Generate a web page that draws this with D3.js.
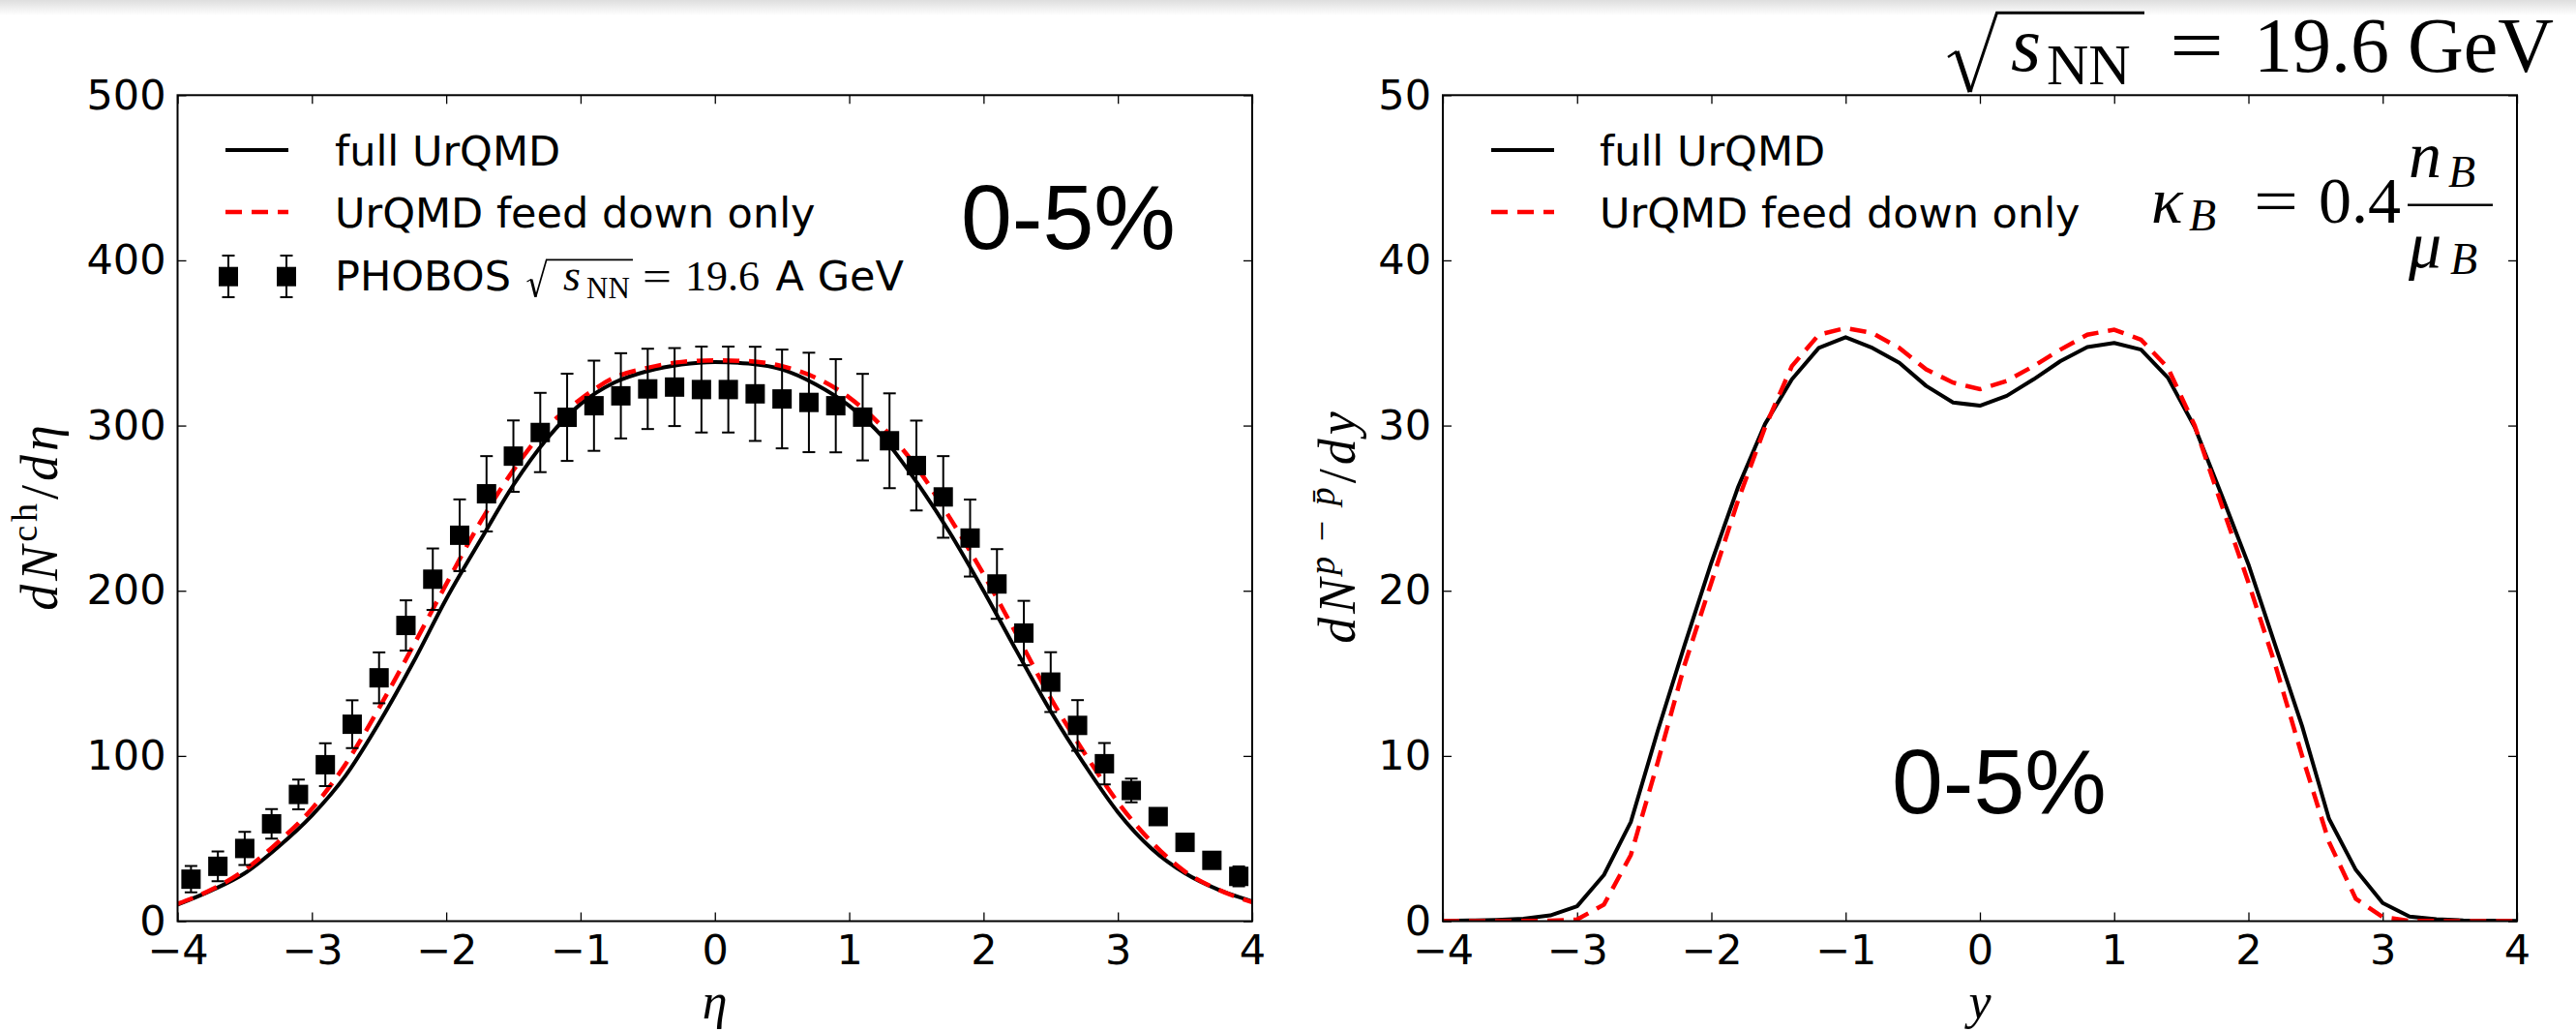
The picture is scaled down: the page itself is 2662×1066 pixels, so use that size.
<!DOCTYPE html>
<html lang="en">
<head>
<meta charset="utf-8" />
<title>UrQMD vs PHOBOS, 0-5%</title>
<style>
  body { margin: 0; background: #fff; }
  .axis text { font-family: "DejaVu Sans", sans-serif; font-size: 43px; fill: #000; }
  .axis line { stroke: #000; stroke-width: 1.3px; }
  .leg { font-family: "DejaVu Sans", sans-serif; font-size: 43px; }
  .serif { font-family: "Liberation Serif", "DejaVu Serif", serif; }
  .it { font-style: italic; }
  .cent { font-family: "Liberation Sans", Arial, sans-serif; font-size: 95px; }
</style>
</head>
<body>
<div id="vis"></div>
<script src="https://d3js.org/d3.v7.min.js"></script>
<script>
// ---- data ----
const xTicks = [-4, -3, -2, -1, 0, 1, 2, 3, 4];
const multTicks = [0, 100, 200, 300, 400, 500];
const netpTicks = [0, 10, 20, 30, 40, 50];

// left panel: dN_ch/deta, UrQMD curves
const etaGrid = [-4, -3.75, -3.5, -3.25, -3, -2.75, -2.5, -2.25, -2, -1.75, -1.5, -1.25, -1, -0.75, -0.5, -0.25,
  0, 0.25, 0.5, 0.75, 1, 1.25, 1.5, 1.75, 2, 2.25, 2.5, 2.75, 3, 3.25, 3.5, 3.75, 4];
const fullEta = [10, 18.5, 29, 45, 64, 88, 120, 156, 195, 230, 264, 292, 313, 326, 333, 337,
  338.5, 337.5, 334, 325, 312, 293, 266, 235, 200, 163, 127, 95, 66, 44, 29, 19, 12];
const feedEta = [10.5, 19, 31, 48, 68, 95, 129, 166, 204, 241, 273, 299, 316, 329, 335, 338.5,
  339.5, 339, 336, 329, 317, 299, 275, 244, 210, 173, 135, 102, 72, 48, 30, 19, 11.5];

// PHOBOS points
const phobosEta = [-3.9, -3.7, -3.5, -3.3, -3.1, -2.9, -2.7, -2.5, -2.3, -2.1, -1.9, -1.7, -1.5, -1.3, -1.1, -0.9, -0.7, -0.5, -0.3, -0.1,
  0.1, 0.3, 0.5, 0.7, 0.9, 1.1, 1.3, 1.5, 1.7, 1.9, 2.1, 2.3, 2.5, 2.7, 2.9, 3.1, 3.3, 3.5, 3.7, 3.9];
const phobosVal = [25.4, 33.2, 44, 58.9, 76.7, 94.7, 119.2, 147.3, 179, 207, 233.6, 258.7, 281.5, 295.8, 305, 312, 318, 322.2, 323.3, 321.8,
  321.8, 319.2, 316.1, 314, 312, 305.1, 290.8, 275.8, 256.8, 231.9, 204.1, 174.4, 144.7, 118.5, 95.3, 79.1, 63.3, 47.7, 36.8, 27.1];
const phobosErr = [8, 9, 10, 9, 9, 13, 14.5, 15.4, 15.2, 18.6, 21.7, 22.8, 21.6, 24, 26.4, 27.3, 25.8, 24.3, 23.6, 26,
  26, 28.5, 29.9, 30.1, 28.2, 26.2, 28.7, 27.2, 24.7, 23.3, 21.1, 19.5, 18.1, 15.3, 12.5, 7.2, 3, 3, 3, 6];

// right panel: net-proton dN/dy
const yGrid = [-4, -3.8, -3.6, -3.4, -3.2, -3, -2.8, -2.6, -2.4, -2.2, -2, -1.8, -1.6, -1.4, -1.2, -1, -0.8, -0.6, -0.4, -0.2,
  0, 0.2, 0.4, 0.6, 0.8, 1, 1.2, 1.4, 1.6, 1.8, 2, 2.2, 2.4, 2.6, 2.8, 3, 3.2, 3.4, 3.6, 3.8, 4];
const fullRap = [0.02, 0.04, 0.08, 0.15, 0.35, 0.9, 2.8, 6.0, 11.5, 16.7, 21.7, 26.3, 30.1, 32.8, 34.7, 35.35, 34.7, 33.8, 32.4, 31.4,
  31.2, 31.8, 32.8, 33.9, 34.75, 35.0, 34.6, 32.9, 29.9, 25.8, 21.6, 16.7, 11.8, 6.2, 3.1, 1.1, 0.28, 0.12, 0.05, 0.03, 0.02];
const feedRap = [0, 0, 0, 0.01, 0.03, 0.1, 1.0, 4.0, 9.6, 15.5, 20.5, 25.5, 29.9, 33.6, 35.5, 35.9, 35.6, 34.7, 33.4, 32.6,
  32.2, 32.7, 33.6, 34.6, 35.5, 35.8, 35.2, 33.5, 30.0, 25.2, 20.5, 15.5, 10.0, 4.8, 1.35, 0.25, 0.02, 0.01, 0, 0, 0];

// ---- layout ----
const W = 2662, H = 1066;
const plotTop = 98.3, plotBottom = 951.5;
const RED = "#ff0000";

const svg = d3.select("#vis").append("svg").attr("width", W).attr("height", H);
const defs = svg.append("defs");
const shade = defs.append("linearGradient").attr("id", "shade")
  .attr("x1", 0).attr("x2", 0).attr("y1", 0).attr("y2", 1);
shade.append("stop").attr("offset", "0%").attr("stop-color", "#dedede");
shade.append("stop").attr("offset", "100%").attr("stop-color", "#fff");
svg.append("rect").attr("width", W).attr("height", H).attr("fill", "#fff");
svg.append("rect").attr("width", W).attr("height", 16).attr("fill", "url(#shade)");

function panel(x0, x1, yMax, yTicks) {
  const x = d3.scaleLinear().domain([-4, 4]).range([x0, x1]);
  const y = d3.scaleLinear().domain([0, yMax]).range([plotBottom, plotTop]);
  const g = svg.append("g");
  g.append("g").attr("class", "axis").attr("transform", `translate(0,${plotBottom})`)
    .call(d3.axisBottom(x).tickValues(xTicks).tickSizeInner(-9).tickSizeOuter(0).tickPadding(14));
  g.append("g").attr("class", "axis").attr("transform", `translate(0,${plotTop})`)
    .call(d3.axisTop(x).tickValues(xTicks).tickSizeInner(-9).tickSizeOuter(0).tickFormat(""));
  g.append("g").attr("class", "axis").attr("transform", `translate(${x0},0)`)
    .call(d3.axisLeft(y).tickValues(yTicks).tickSizeInner(-9).tickSizeOuter(0).tickPadding(12));
  g.append("g").attr("class", "axis").attr("transform", `translate(${x1},0)`)
    .call(d3.axisRight(y).tickValues(yTicks).tickSizeInner(-9).tickSizeOuter(0).tickFormat(""));
  g.selectAll(".domain").remove();
  const clipId = "clip" + Math.round(x0);
  defs.append("clipPath").attr("id", clipId).append("rect")
    .attr("x", x0).attr("y", plotTop).attr("width", x1 - x0).attr("height", plotBottom - plotTop);
  const body = g.append("g").attr("clip-path", `url(#${clipId})`);
  return { g, body, x, y, x0, x1 };
}

function frame(p) {
  p.g.append("rect").attr("x", p.x0).attr("y", plotTop)
    .attr("width", p.x1 - p.x0).attr("height", plotBottom - plotTop)
    .attr("fill", "none").attr("stroke", "#000").attr("stroke-width", 2);
}

function put(g, str, x, y, size, cls, anchor) {
  return g.append("text").attr("x", x).attr("y", y).attr("class", cls || "serif")
    .attr("font-size", size).attr("text-anchor", anchor || "start").text(str);
}

// wide math "=" (computer-modern style is wider than the Times glyph)
function eq(g, x, y, size, width) {
  return put(g, "=", x, y, size, "serif").attr("textLength", width).attr("lengthAdjust", "spacingAndGlyphs");
}

// radical sign: hook, thick down stroke, thin up stroke, vinculum
function radical(g, pts, w) {
  const [a, b, c, d, e] = pts;
  g.append("path").attr("d", `M${a[0]},${a[1]}L${b[0]},${b[1]}`).attr("stroke", "#000").attr("stroke-width", w * 0.8).attr("fill", "none");
  g.append("path").attr("d", `M${b[0]},${b[1]}L${c[0]},${c[1]}`).attr("stroke", "#000").attr("stroke-width", w * 1.7).attr("fill", "none");
  g.append("path").attr("d", `M${c[0]},${c[1]}L${d[0]},${d[1]}L${e[0]},${e[1]}`).attr("stroke", "#000").attr("stroke-width", w).attr("fill", "none");
}

// ================= left panel =================
const L = panel(183.5, 1294, 500, multTicks);

const lineL = d3.line().x((d, i) => L.x(etaGrid[i])).y(d => L.y(d)).curve(d3.curveMonotoneX);
L.body.append("path").attr("d", lineL(fullEta)).attr("fill", "none").attr("stroke", "#000").attr("stroke-width", 4);
L.body.append("path").attr("d", lineL(feedEta)).attr("fill", "none").attr("stroke", RED).attr("stroke-width", 4.5)
  .attr("stroke-dasharray", "17,10");

const pts = L.body.append("g");
phobosEta.forEach((e, i) => {
  const cx = L.x(e), v = phobosVal[i], er = phobosErr[i];
  const y1 = L.y(v - er), y2 = L.y(v + er);
  pts.append("line").attr("x1", cx).attr("x2", cx).attr("y1", y1).attr("y2", y2).attr("stroke", "#000").attr("stroke-width", 2);
  [y1, y2].forEach(yy => pts.append("line").attr("x1", cx - 6.5).attr("x2", cx + 6.5).attr("y1", yy).attr("y2", yy)
    .attr("stroke", "#000").attr("stroke-width", 2));
  pts.append("rect").attr("x", cx - 10).attr("y", L.y(v) - 10).attr("width", 20).attr("height", 20).attr("fill", "#000");
});
frame(L);

// legend (left)
const lg = L.g.append("g");
lg.append("line").attr("x1", 233).attr("x2", 298).attr("y1", 155).attr("y2", 155).attr("stroke", "#000").attr("stroke-width", 4);
lg.append("line").attr("x1", 233).attr("x2", 298).attr("y1", 219).attr("y2", 219).attr("stroke", RED).attr("stroke-width", 4.5)
  .attr("stroke-dasharray", "17,10");
[236, 296].forEach(cx => {
  lg.append("line").attr("x1", cx).attr("x2", cx).attr("y1", 264).attr("y2", 307).attr("stroke", "#000").attr("stroke-width", 2);
  [264, 307].forEach(yy => lg.append("line").attr("x1", cx - 6.5).attr("x2", cx + 6.5).attr("y1", yy).attr("y2", yy)
    .attr("stroke", "#000").attr("stroke-width", 2));
  lg.append("rect").attr("x", cx - 10).attr("y", 275.7).attr("width", 20).attr("height", 20).attr("fill", "#000");
});
put(lg, "full UrQMD", 346, 171, 43, "leg");
put(lg, "UrQMD feed down only", 346, 235, 43, "leg");
put(lg, "PHOBOS", 346, 300, 43, "leg");
radical(lg, [[544.5, 291], [549, 288.5], [553.6, 306.7], [564.7, 268.3], [654, 268.3]], 1.7);
put(lg, "s", 582, 300, 46, "serif it");
put(lg, "NN", 606, 308, 31, "serif");
eq(lg, 664, 300, 44, 30);
put(lg, "19.6", 708, 300, 44, "serif");
put(lg, "A GeV", 801.6, 300, 43, "leg");

put(L.g, "0-5%", 993, 257, 95, "cent");

// axis titles (left)
put(L.g, "\u03b7", 738.6, 1052, 52, "serif it", "middle");
const ylL = L.g.append("text").attr("class", "serif").attr("font-size", 54).attr("text-anchor", "middle")
  .attr("letter-spacing", 4).attr("transform", "translate(59,533) rotate(-90)");
ylL.append("tspan").attr("class", "serif it").text("dN");
ylL.append("tspan").attr("font-size", 38).attr("dy", -21).text("ch");
ylL.append("tspan").attr("dy", 21).text("/");
ylL.append("tspan").attr("class", "serif it").text("d\u03b7");

// ================= right panel =================
const R = panel(1491, 2601, 50, netpTicks);
const lineR = d3.line().x((d, i) => R.x(yGrid[i])).y(d => R.y(d));
R.body.append("path").attr("d", lineR(fullRap)).attr("fill", "none").attr("stroke", "#000").attr("stroke-width", 4)
  .attr("stroke-linejoin", "round");
R.body.append("path").attr("d", lineR(feedRap)).attr("fill", "none").attr("stroke", RED).attr("stroke-width", 4.5)
  .attr("stroke-dasharray", "17,10");
frame(R);

const rg = R.g.append("g");
rg.append("line").attr("x1", 1541).attr("x2", 1606).attr("y1", 155).attr("y2", 155).attr("stroke", "#000").attr("stroke-width", 4);
rg.append("line").attr("x1", 1541).attr("x2", 1606).attr("y1", 219).attr("y2", 219).attr("stroke", RED).attr("stroke-width", 4.5)
  .attr("stroke-dasharray", "17,10");
put(rg, "full UrQMD", 1653, 171, 43, "leg");
put(rg, "UrQMD feed down only", 1653, 235, 43, "leg");

put(R.g, "0-5%", 1955, 840, 95, "cent");

// kappa_B = 0.4 n_B / mu_B
put(rg, "\u03ba", 2223, 230, 68, "serif it");
put(rg, "B", 2262, 238, 46, "serif it");
eq(rg, 2329, 230, 66, 46);
put(rg, "0.4", 2396, 230, 68, "serif");
rg.append("line").attr("x1", 2488).attr("x2", 2576).attr("y1", 211.7).attr("y2", 211.7).attr("stroke", "#000").attr("stroke-width", 2.5);
put(rg, "n", 2489, 183, 68, "serif it");
put(rg, "B", 2530, 193, 46, "serif it");
put(rg, "\u03bc", 2489, 276, 68, "serif it");
put(rg, "B", 2532, 283, 46, "serif it");

// title sqrt(s_NN) = 19.6 GeV
radical(svg, [[2013, 59], [2022, 53], [2036, 95], [2063.5, 13.3], [2216, 13.3]], 3);
put(svg, "s", 2078, 73, 80, "serif it");
put(svg, "NN", 2115, 86.7, 60, "serif");
eq(svg, 2242, 74, 80, 56);
put(svg, "19.6", 2329, 74, 80, "serif");
put(svg, "GeV", 2488, 74, 80, "serif");

// axis titles (right)
put(R.g, "y", 2046, 1052, 52, "serif it", "middle");
const ylR = R.g.append("text").attr("class", "serif").attr("font-size", 54).attr("text-anchor", "middle")
  .attr("letter-spacing", 4).attr("transform", "translate(1400,543) rotate(-90)");
ylR.append("tspan").attr("class", "serif it").text("dN");
ylR.append("tspan").attr("class", "serif it").attr("font-size", 38).attr("dy", -21).text("p");
ylR.append("tspan").attr("font-size", 38).text("\u2009\u2212\u2009");
ylR.append("tspan").attr("class", "serif it").attr("font-size", 38).text("p\u0304");
ylR.append("tspan").attr("dy", 21).text("/");
ylR.append("tspan").attr("class", "serif it").text("dy");
</script>
</body>
</html>
